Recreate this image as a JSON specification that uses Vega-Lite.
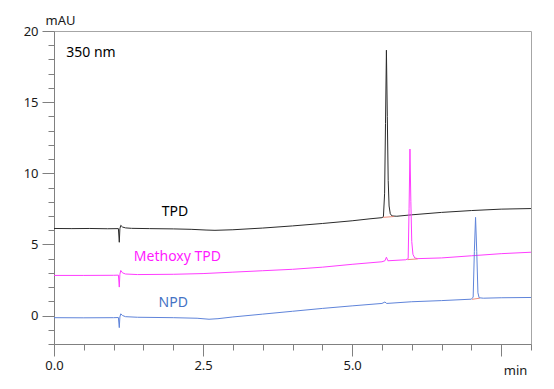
{
  "$schema": "https://vega.github.io/schema/vega-lite/v6.json",
  "width": 477,
  "height": 313,
  "autosize": {"type": "none"},
  "padding": {"left": 54, "top": 31, "right": 23, "bottom": 45},
  "background": "white",
  "config": {
    "view": {"stroke": "#a6a6a6", "strokeWidth": 1},
    "axis": {
      "domainColor": "#808080",
      "tickColor": "#808080",
      "labelColor": "#1a1a1a",
      "labelFont": "Noto Sans",
      "labelFontSize": 13,
      "titleFont": "Noto Sans",
      "titleFontSize": 13,
      "titleFontWeight": "normal",
      "titleColor": "#1a1a1a",
      "grid": false
    }
  },
  "datasets": {
    "traces": [
      {"series": "TPD", "t": 0, "v": 6.12}, {"series": "TPD", "t": 0.3, "v": 6.11}, {"series": "TPD", "t": 0.6, "v": 6.12}, {"series": "TPD", "t": 0.9, "v": 6.1}, {"series": "TPD", "t": 1.08, "v": 6.11}, {"series": "TPD", "t": 1.095, "v": 5.15}, {"series": "TPD", "t": 1.105, "v": 6.1}, {"series": "TPD", "t": 1.12, "v": 6.34}, {"series": "TPD", "t": 1.15, "v": 6.22}, {"series": "TPD", "t": 1.2, "v": 6.16}, {"series": "TPD", "t": 1.3, "v": 6.13}, {"series": "TPD", "t": 1.6, "v": 6.11}, {"series": "TPD", "t": 2.0, "v": 6.09}, {"series": "TPD", "t": 2.3, "v": 6.06}, {"series": "TPD", "t": 2.55, "v": 6.01}, {"series": "TPD", "t": 2.7, "v": 5.99}, {"series": "TPD", "t": 3.0, "v": 6.03}, {"series": "TPD", "t": 3.5, "v": 6.15}, {"series": "TPD", "t": 4.0, "v": 6.3}, {"series": "TPD", "t": 4.5, "v": 6.47}, {"series": "TPD", "t": 5.0, "v": 6.66}, {"series": "TPD", "t": 5.3, "v": 6.8}, {"series": "TPD", "t": 5.5, "v": 6.88}, {"series": "TPD", "t": 5.525, "v": 6.95}, {"series": "TPD", "t": 5.545, "v": 8.6}, {"series": "TPD", "t": 5.56, "v": 13.5}, {"series": "TPD", "t": 5.575, "v": 18.65}, {"series": "TPD", "t": 5.59, "v": 14.0}, {"series": "TPD", "t": 5.605, "v": 9.5}, {"series": "TPD", "t": 5.62, "v": 7.7}, {"series": "TPD", "t": 5.64, "v": 7.15}, {"series": "TPD", "t": 5.67, "v": 7.0}, {"series": "TPD", "t": 5.75, "v": 6.98}, {"series": "TPD", "t": 6.0, "v": 7.08}, {"series": "TPD", "t": 6.5, "v": 7.25}, {"series": "TPD", "t": 7.0, "v": 7.38}, {"series": "TPD", "t": 7.5, "v": 7.48}, {"series": "TPD", "t": 8.0, "v": 7.52},
      {"series": "Methoxy TPD", "t": 0, "v": 2.82}, {"series": "Methoxy TPD", "t": 0.5, "v": 2.82}, {"series": "Methoxy TPD", "t": 1.0, "v": 2.83}, {"series": "Methoxy TPD", "t": 1.08, "v": 2.84}, {"series": "Methoxy TPD", "t": 1.095, "v": 2.0}, {"series": "Methoxy TPD", "t": 1.105, "v": 2.9}, {"series": "Methoxy TPD", "t": 1.12, "v": 3.17}, {"series": "Methoxy TPD", "t": 1.15, "v": 3.0}, {"series": "Methoxy TPD", "t": 1.2, "v": 2.92}, {"series": "Methoxy TPD", "t": 1.4, "v": 2.88}, {"series": "Methoxy TPD", "t": 2.0, "v": 2.9}, {"series": "Methoxy TPD", "t": 2.5, "v": 2.95}, {"series": "Methoxy TPD", "t": 3.0, "v": 3.05}, {"series": "Methoxy TPD", "t": 3.5, "v": 3.15}, {"series": "Methoxy TPD", "t": 4.0, "v": 3.25}, {"series": "Methoxy TPD", "t": 4.5, "v": 3.4}, {"series": "Methoxy TPD", "t": 5.0, "v": 3.6}, {"series": "Methoxy TPD", "t": 5.5, "v": 3.78}, {"series": "Methoxy TPD", "t": 5.55, "v": 3.85}, {"series": "Methoxy TPD", "t": 5.575, "v": 4.1}, {"series": "Methoxy TPD", "t": 5.6, "v": 3.85}, {"series": "Methoxy TPD", "t": 5.9, "v": 3.92}, {"series": "Methoxy TPD", "t": 5.94, "v": 4.0}, {"series": "Methoxy TPD", "t": 5.955, "v": 7.5}, {"series": "Methoxy TPD", "t": 5.97, "v": 11.7}, {"series": "Methoxy TPD", "t": 5.985, "v": 8.0}, {"series": "Methoxy TPD", "t": 6.0, "v": 5.2}, {"series": "Methoxy TPD", "t": 6.02, "v": 4.3}, {"series": "Methoxy TPD", "t": 6.05, "v": 4.05}, {"series": "Methoxy TPD", "t": 6.1, "v": 4.0}, {"series": "Methoxy TPD", "t": 6.5, "v": 4.05}, {"series": "Methoxy TPD", "t": 7.0, "v": 4.2}, {"series": "Methoxy TPD", "t": 7.5, "v": 4.35}, {"series": "Methoxy TPD", "t": 8.0, "v": 4.45},
      {"series": "NPD", "t": 0, "v": -0.15}, {"series": "NPD", "t": 0.5, "v": -0.16}, {"series": "NPD", "t": 1.0, "v": -0.15}, {"series": "NPD", "t": 1.08, "v": -0.14}, {"series": "NPD", "t": 1.095, "v": -0.85}, {"series": "NPD", "t": 1.105, "v": -0.1}, {"series": "NPD", "t": 1.12, "v": 0.12}, {"series": "NPD", "t": 1.15, "v": 0.0}, {"series": "NPD", "t": 1.2, "v": -0.08}, {"series": "NPD", "t": 1.4, "v": -0.12}, {"series": "NPD", "t": 2.0, "v": -0.15}, {"series": "NPD", "t": 2.4, "v": -0.19}, {"series": "NPD", "t": 2.6, "v": -0.26}, {"series": "NPD", "t": 2.75, "v": -0.22}, {"series": "NPD", "t": 3.0, "v": -0.1}, {"series": "NPD", "t": 3.5, "v": 0.1}, {"series": "NPD", "t": 4.0, "v": 0.3}, {"series": "NPD", "t": 4.5, "v": 0.5}, {"series": "NPD", "t": 5.0, "v": 0.68}, {"series": "NPD", "t": 5.5, "v": 0.85}, {"series": "NPD", "t": 5.55, "v": 0.95}, {"series": "NPD", "t": 5.58, "v": 0.85}, {"series": "NPD", "t": 6.0, "v": 0.97}, {"series": "NPD", "t": 6.5, "v": 1.05}, {"series": "NPD", "t": 7.0, "v": 1.15}, {"series": "NPD", "t": 7.03, "v": 1.3}, {"series": "NPD", "t": 7.05, "v": 4.5}, {"series": "NPD", "t": 7.07, "v": 6.9}, {"series": "NPD", "t": 7.09, "v": 4.5}, {"series": "NPD", "t": 7.11, "v": 1.6}, {"series": "NPD", "t": 7.13, "v": 1.25}, {"series": "NPD", "t": 7.2, "v": 1.22}, {"series": "NPD", "t": 7.5, "v": 1.25}, {"series": "NPD", "t": 8.0, "v": 1.27}
    ],
    "baselines": [
      {"peak": "TPD", "t": 5.52, "v": 6.9}, {"peak": "TPD", "t": 5.7, "v": 6.96},
      {"peak": "Methoxy TPD", "t": 5.93, "v": 3.93}, {"peak": "Methoxy TPD", "t": 6.1, "v": 3.98},
      {"peak": "NPD", "t": 7.01, "v": 1.14}, {"peak": "NPD", "t": 7.14, "v": 1.22}
    ],
    "labels": [
      {"series": "TPD", "label": "TPD", "t": 2.03, "v": 7.27},
      {"series": "Methoxy TPD", "label": "Methoxy TPD", "t": 2.07, "v": 4.13},
      {"series": "NPD", "label": "NPD", "t": 2.0, "v": 0.85},
      {"series": "note", "label": "350 nm", "t": 0.62, "v": 18.45}
    ]
  },
  "layer": [
    {
      "data": {"name": "traces"},
      "mark": {"type": "line", "strokeWidth": 1, "interpolate": "linear"},
      "encoding": {
        "x": {"field": "t", "type": "quantitative", "scale": {"domain": [0, 8], "nice": false, "zero": false},
          "axis": {"orient": "bottom", "values": [0, 0.5, 1, 1.5, 2, 2.5, 3, 3.5, 4, 4.5, 5, 5.5, 6, 6.5, 7, 7.5, 8], "tickCount": 100,
            "tickSize": {"condition": {"test": "datum.value % 2.5 === 0", "value": 12}, "value": 6},
            "labelPadding": 3, "labelFlush": false, "labelOverlap": false,
            "labelExpr": "(datum.value === 0 || datum.value === 2.5 || datum.value === 5) ? format(datum.value, '.1f') : ''",
            "title": "min", "titleX": 461, "titleY": 30, "titleAlign": "center", "titleBaseline": "alphabetic"}},
        "y": {"field": "v", "type": "quantitative", "scale": {"domain": [-2, 20], "nice": false, "zero": false},
          "axis": {"orient": "left", "values": [-2, -1, 0, 1, 2, 3, 4, 5, 6, 7, 8, 9, 10, 11, 12, 13, 14, 15, 16, 17, 18, 19, 20], "tickCount": 100,
            "tickSize": {"condition": {"test": "datum.value % 5 === 0", "value": 12}, "value": 6},
            "labelPadding": 4, "labelFlush": false, "labelOverlap": false,
            "labelExpr": "datum.value % 5 === 0 ? format(datum.value, 'd') : ''",
            "title": "mAU", "titleAngle": 0, "titleX": 6, "titleY": -11, "titleAlign": "center", "titleBaseline": "middle"}},
        "color": {"field": "series", "type": "nominal", "legend": null,
          "scale": {"domain": ["TPD", "Methoxy TPD", "NPD"], "range": ["#2b2b2b", "#ff3cff", "#5f84da"]}},
        "order": {"field": "t", "type": "quantitative"}
      }
    },
    {
      "data": {"name": "baselines"},
      "mark": {"type": "line", "strokeWidth": 1, "color": "#e8705c", "opacity": 0.8},
      "encoding": {
        "x": {"field": "t", "type": "quantitative"},
        "y": {"field": "v", "type": "quantitative"},
        "detail": {"field": "peak", "type": "nominal"}
      }
    },
    {
      "data": {"name": "labels"},
      "mark": {"type": "text", "font": "Noto Sans", "fontSize": 14, "align": "center", "baseline": "middle"},
      "encoding": {
        "x": {"field": "t", "type": "quantitative"},
        "y": {"field": "v", "type": "quantitative"},
        "text": {"field": "label"},
        "color": {"field": "series", "type": "nominal", "legend": null,
          "scale": {"domain": ["TPD", "Methoxy TPD", "NPD", "note"], "range": ["#000000", "#ff1aff", "#4472c4", "#000000"]}}
      }
    }
  ],
  "resolve": {"scale": {"color": "independent"}}
}
